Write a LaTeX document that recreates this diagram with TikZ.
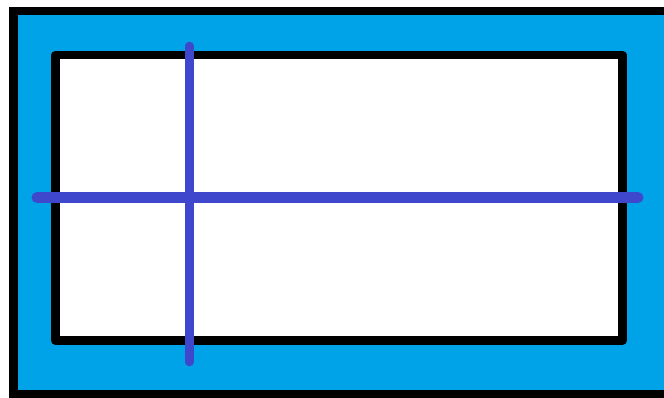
\documentclass[tikz,border=0pt]{standalone}
\definecolor{paintcyan}{RGB}{0,162,232}
\definecolor{paintblue}{RGB}{63,72,204}
\tikzset{
  frame/.style={draw=black, line width=8.5pt},
  bluebar/.style={draw=paintblue, line cap=round},
}
\begin{document}
\begin{tikzpicture}[x=1pt,y=-1pt]
\useasboundingbox (0,0) rectangle (664,397);
\fill[white] (0,0) rectangle (664,397);
\begin{scope}
\clip (0,0) rectangle (664,397);
\path[frame, fill=paintcyan] (13.5,11) rectangle (690,394);
\end{scope}
\path[frame, fill=white, line join=round] (55.5,55) rectangle (622.5,340.5);
\coordinate (vtop) at (189.5,46);
\coordinate (vbot) at (189.5,362);
\coordinate (hl) at (37,197.5);
\coordinate (hr) at (638,197.5);
\draw[bluebar, line width=8.5pt] (vtop) -- (vbot);
\draw[bluebar, line width=11pt] (hl) -- (hr);
\end{tikzpicture}
\end{document}
